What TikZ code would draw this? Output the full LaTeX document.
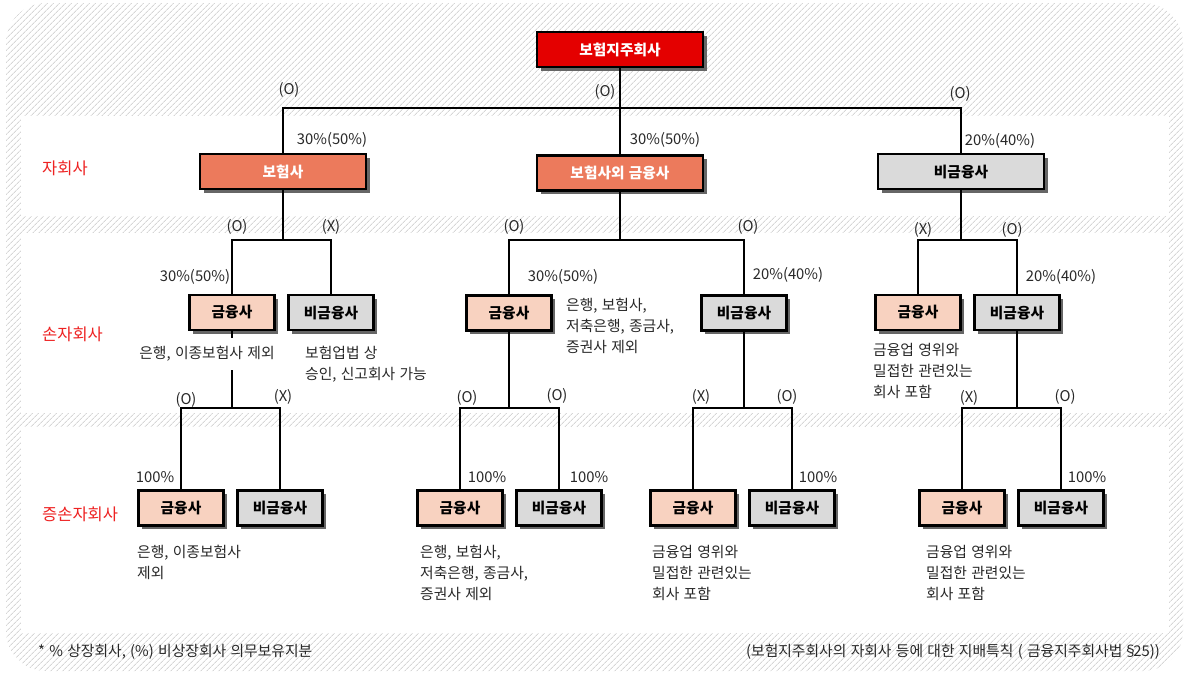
\documentclass[tikz,border=0pt]{standalone}
\usepackage{fontspec}
\setmainfont{Noto Sans CJK KR}[WordSpace=1.3]
\usetikzlibrary{patterns.meta,shadows}
\definecolor{topred}{RGB}{228,0,0}
\definecolor{salmon}{RGB}{236,122,92}
\definecolor{peach}{RGB}{248,210,192}
\definecolor{boxgray}{RGB}{218,218,218}
\definecolor{lblred}{RGB}{238,34,34}
\definecolor{hatch}{RGB}{214,214,214}
\definecolor{txt}{RGB}{40,40,40}
\begin{document}
\begin{tikzpicture}[x=1pt,y=-1pt,
  box/.style={draw=black, line width=2.6pt, minimum height=35pt, inner sep=0pt,
    font=\fontsize{14.7}{17}\selectfont\bfseries,
    drop shadow={shadow xshift=3.5pt,shadow yshift=-3.5pt,fill=black!60,opacity=1}},
  bigbox/.style={box, minimum width=166pt},
  smallbox/.style={box, minimum width=85pt},
  fin/.style={smallbox, fill=peach},
  nonfin/.style={smallbox, fill=boxgray},
  conn/.style={draw=black, line width=1.9pt},
  lbl/.style={font=\fontsize{14.8}{17}\selectfont, text=txt, inner sep=0pt},
  note/.style={font=\fontsize{14.8}{21}\selectfont, text=txt, inner sep=0pt, align=left, anchor=north west},
  side/.style={font=\fontsize{16.5}{19}\selectfont, text=lblred, inner sep=0pt, anchor=west}
]
\useasboundingbox (0,0) rectangle (1184,673);
% background
\fill[pattern={Lines[angle=45,distance=4pt,line width=0.9pt]}, pattern color=hatch, rounded corners=40pt] (6,3) rectangle (1183,671);
\fill[white] (21,116) rectangle (1169,216);
\fill[white] (21,233) rectangle (1169,413);
\fill[white] (21,427) rectangle (1169,633);

% side labels
\node[side] (s1) at (42,168) {자회사};
\node[side] (s2) at (42,334) {손자회사};
\node[side] (s3) at (42,514) {증손자회사};

% boxes
\node[bigbox, fill=topred, text=white] (top) at (620,49.5) {보험지주회사};
\node[bigbox, fill=salmon, text=white] (c1) at (283,171.5) {보험사};
\node[bigbox, fill=salmon, text=white] (c2) at (620,173) {보험사외 금융사};
\node[bigbox, fill=boxgray] (c3) at (961,171.5) {비금융사};

\node[fin] (g1) at (232,312.5) {금융사};
\node[nonfin] (n1) at (331,312.5) {비금융사};
\node[fin] (g2) at (509,313) {금융사};
\node[nonfin] (n2) at (744,313) {비금융사};
\node[fin] (g3) at (918,312.5) {금융사};
\node[nonfin] (n3) at (1017,312.5) {비금융사};

\node[fin] (gg1) at (181,508) {금융사};
\node[nonfin] (gn1) at (280,508) {비금융사};
\node[fin] (gg2) at (460,508) {금융사};
\node[nonfin] (gn2) at (559,508) {비금융사};
\node[fin] (gg3) at (693,508) {금융사};
\node[nonfin] (gn3) at (792,508) {비금융사};
\node[fin] (gg4) at (962,508) {금융사};
\node[nonfin] (gn4) at (1061,508) {비금융사};

% junctions
\coordinate (j0) at (620,108);
\coordinate (j1) at (283,240);
\coordinate (j2) at (620,240);
\coordinate (j3) at (961,240);
\coordinate (j4) at (232,408);
\coordinate (j5) at (509,408);
\coordinate (j6) at (744,408);
\coordinate (j7) at (1017,408);

% connectors
\draw[conn] (top.south) -- (j0);
\draw[conn] (c1.north) |- (j0) -| (c3.north);
\draw[conn] (j0) -- (c2.north);
\draw[conn] (c1.south) -- (j1);
\draw[conn] (g1.north) |- (j1) -| (n1.north);
\draw[conn] (c2.south) -- (j2);
\draw[conn] (g2.north) |- (j2) -| (n2.north);
\draw[conn] (c3.south) -- (j3);
\draw[conn] (g3.north) |- (j3) -| (n3.north);
\draw[conn] (g1.south) -- (j4);
\draw[conn] (gg1.north) |- (j4) -| (gn1.north);
\draw[conn] (g2.south) -- (j5);
\draw[conn] (gg2.north) |- (j5) -| (gn2.north);
\draw[conn] (n2.south) -- (j6);
\draw[conn] (gg3.north) |- (j6) -| (gn3.north);
\draw[conn] (n3.south) -- (j7);
\draw[conn] (gg4.north) |- (j7) -| (gn4.north);

% connector labels
\node[lbl] (o1) at (289,90) {(O)};
\node[lbl] (o2) at (605,92) {(O)};
\node[lbl] (o3) at (960,94) {(O)};
\node[lbl] (p1) at (332,140) {30\%(50\%)};
\node[lbl] (p2) at (665,140) {30\%(50\%)};
\node[lbl] (p3) at (1000,141) {20\%(40\%)};

\node[lbl] (o4) at (237,227) {(O)};
\node[lbl] (x1) at (331,227) {(X)};
\node[lbl] (o5) at (514,227) {(O)};
\node[lbl] (o6) at (748,227) {(O)};
\node[lbl] (x2) at (923,230) {(X)};
\node[lbl] (o7) at (1012,230) {(O)};
\node[lbl] (p4) at (195,277) {30\%(50\%)};
\node[lbl] (p5) at (563,277) {30\%(50\%)};
\node[lbl] (p6) at (788,275) {20\%(40\%)};
\node[lbl] (p7) at (1061,277) {20\%(40\%)};

\node[lbl] (o8) at (186,400) {(O)};
\node[lbl] (x3) at (283,397) {(X)};
\node[lbl] (o9) at (467,398) {(O)};
\node[lbl] (o10) at (557,396) {(O)};
\node[lbl] (x4) at (701,397) {(X)};
\node[lbl] (o11) at (787,397) {(O)};
\node[lbl] (x5) at (969,398) {(X)};
\node[lbl] (o12) at (1065,397) {(O)};

\node[lbl] (h1) at (155,477) {100\%};
\node[lbl] (h2) at (487,477) {100\%};
\node[lbl] (h3) at (589,477) {100\%};
\node[lbl] (h4) at (818,477) {100\%};
\node[lbl] (h5) at (1087,477) {100\%};

% notes
\node[lbl, fill=white, inner xsep=2pt, inner ysep=8pt] (g1note) at (207,354) {은행, 이종보험사 제외};
\node[note] (n1note) at (305,346) {보험업법 상\\승인, 신고회사 가능};
\node[note] (g2note) at (566,298) {은행, 보험사,\\저축은행, 종금사,\\증권사 제외};
\node[note] (g3note) at (873,343) {금융업 영위와\\밀접한 관련있는\\회사 포함};
\node[note] (gg1note) at (137,545) {은행, 이종보험사\\제외};
\node[note] (gg2note) at (420,545) {은행, 보험사,\\저축은행, 종금사,\\증권사 제외};
\node[note] (gg3note) at (652,545) {금융업 영위와\\밀접한 관련있는\\회사 포함};
\node[note] (gg4note) at (926,545) {금융업 영위와\\밀접한 관련있는\\회사 포함};

% footer
\node[lbl, anchor=west] (foot1) at (38,652) {* \% 상장회사, (\%) 비상장회사 의무보유지분};
\node[lbl, anchor=east] (foot2) at (1160,652) {(보험지주회사의 자회사 등에 대한 지배특칙 ( 금융지주회사법 \kern-0.25em§\kern-0.3em25))};
\end{tikzpicture}
\end{document}
